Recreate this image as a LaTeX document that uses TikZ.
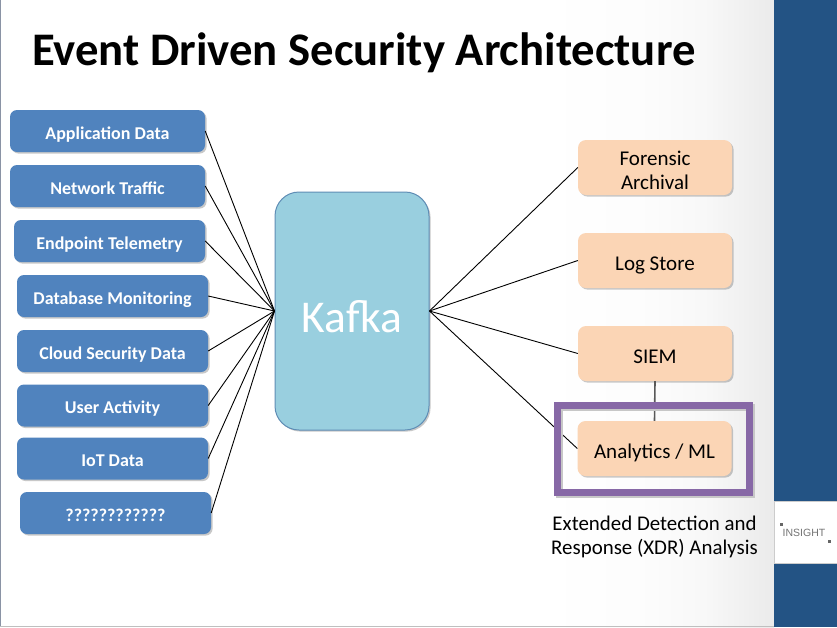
\documentclass[tikz,border=0pt]{standalone}
\usepackage{fontspec}
\setmainfont{Carlito}
\newfontfamily\logofont{Liberation Sans}
\usetikzlibrary{shadows,positioning,calc}
\definecolor{srcblue}{HTML}{5083BE}
\definecolor{peach}{HTML}{FBD5B5}
\definecolor{kafkablue}{HTML}{99CFDF}
\definecolor{kafkaedge}{HTML}{5F8DB5}
\definecolor{purp}{HTML}{8768A6}
\definecolor{band}{HTML}{235384}
\definecolor{edgegray}{HTML}{8A93A5}
\pgfdeclarehorizontalshading{bgfade}{100bp}{color(0bp)=(white); color(30bp)=(white); color(50bp)=(black!1); color(62bp)=(black!3); color(75bp)=(black!8); color(100bp)=(black!8)}
\tikzset{
  x=1pt,y=-1pt,
  softshadow/.style={drop shadow={shadow xshift=1.6pt,shadow yshift=-1.6pt,opacity=.3,fill=black!70}},
  srcbox/.style={rectangle,rounded corners=7pt,fill=srcblue,softshadow,text=white,font=\fontsize{18}{20}\selectfont\bfseries,minimum width=#1,minimum height=42pt,inner sep=0pt,text height=16pt,text depth=0pt},
  sinkbox/.style={rectangle,rounded corners=8pt,fill=peach,softshadow,text=black,font=\fontsize{21}{24}\selectfont,minimum width=154pt,minimum height=55pt,inner sep=0pt,align=center,text height=19pt,text depth=0pt},
  framebox/.style={rectangle,line width=7pt,minimum width=192pt,minimum height=87pt,inner sep=0pt},
  link/.style={black,line width=.9pt},
}
\begin{document}
\begin{tikzpicture}
\useasboundingbox (0,0) rectangle (837,627);
% slide background
\fill[white] (0,0) rectangle (837,627);
\path[shading=bgfade] (520,0) rectangle (774,627);
\fill[edgegray] (0,0) rectangle (1.2,627);
\fill[black!25] (0,625.5) rectangle (774,627);
\fill[band] (774,0) rectangle (837,627);
\node[rectangle,fill=white,draw=black!20,line width=.5pt,minimum width=63pt,minimum height=62pt,inner sep=0pt] (logo) at (805.5,532) {};
\node[text=black!55,font=\logofont\fontsize{10.5}{12}\selectfont,inner sep=0pt] (logotext) at (804,533) {INSIGHT};
\node[fill=black!60,inner sep=0pt,minimum size=3pt] (logotl) at (781,524.5) {};
\node[fill=black!60,inner sep=0pt,minimum size=3pt] (logobr) at (829,541.5) {};
% title
\node[anchor=base west,font=\fontsize{46.7}{50}\selectfont\bfseries,inner sep=0pt] (title) at (32,65) {Event Driven Security Architecture};
% sources
\node[srcbox=195pt] (s1) at (107.5,131) {Application Data};
\node[srcbox=195pt] (s2) at (107.5,186) {Network Traffic};
\node[srcbox=191pt] (s3) at (109.5,241) {Endpoint Telemetry};
\node[srcbox=191pt] (s4) at (112.5,296) {Database Monitoring};
\node[srcbox=191pt] (s5) at (112.5,351) {Cloud Security Data};
\node[srcbox=191pt] (s6) at (112.5,405.5) {User Activity};
\node[srcbox=191pt] (s7) at (112.5,458.5) {IoT Data};
\node[srcbox=191pt] (s8) at (115.5,513) {????????????};
% hub
\node[rectangle,rounded corners=24pt,fill=kafkablue,draw=kafkaedge,line width=1pt,softshadow,text=white,font=\fontsize{45.5}{48}\selectfont,minimum width=154pt,minimum height=238pt,inner sep=0pt,text height=42pt,text depth=0pt] (kafka) at (352,311) {Kafka};
% sinks
\node[sinkbox,text height=43pt] (t1) at (655,167.5) {Forensic\\Archival};
\node[sinkbox] (t2) at (655,260.5) {Log Store};
\node[sinkbox] (t3) at (655,353.5) {SIEM};
\node[sinkbox] (t4) at (654.5,448.5) {Analytics / ML};
% connectors
\foreach \s in {s1,s2,s3,s4,s5,s6,s7,s8}
  \draw[link] (\s.east) -- (kafka.west);
\foreach \t in {t1,t2,t3,t4}
  \draw[link] (kafka.east) -- (\t.west);
\draw[black!65,line width=1.6pt] (t3.south) -- (t4.north);
% highlight
\node[framebox,draw=black!22] (frameshade) at (655.5,451) {};
\node[framebox,draw=purp] (frame) at (653.5,449) {};
\node[font=\fontsize{20.9}{24}\selectfont,align=center,inner sep=0pt] (xdr) at (654.5,537) {Extended Detection and\\Response (XDR) Analysis};
\end{tikzpicture}
\end{document}
